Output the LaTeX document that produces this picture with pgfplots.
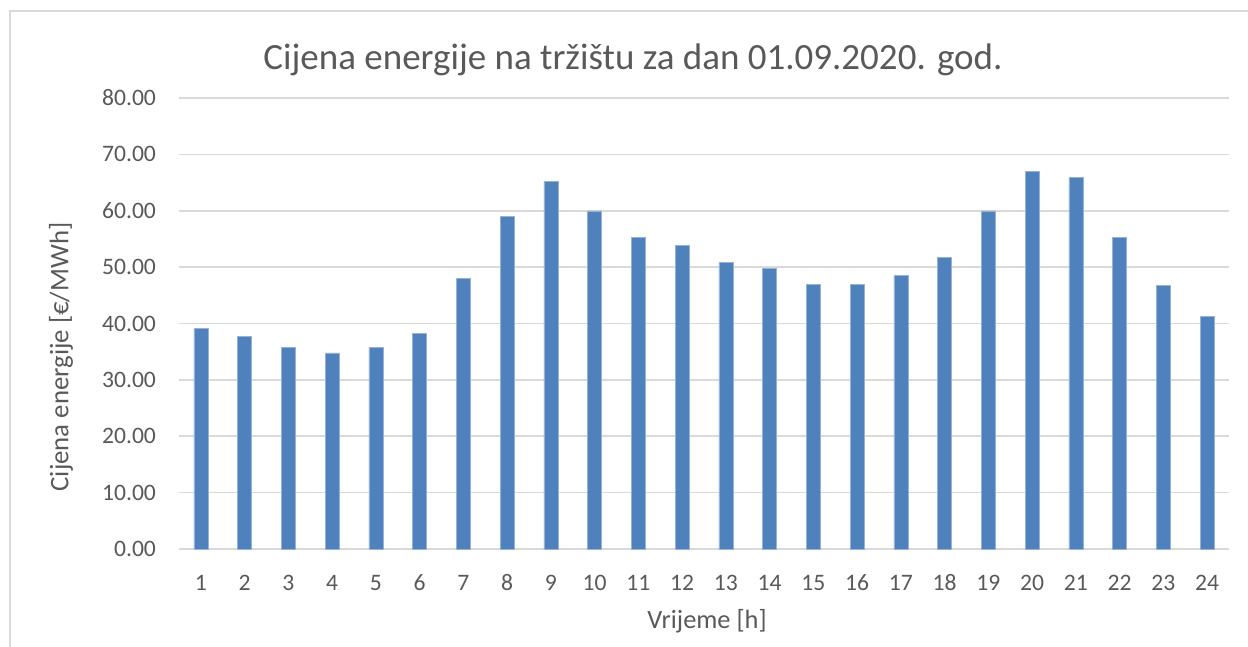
\documentclass[border=0pt]{standalone}
\usepackage{pgfplots}
\pgfplotsset{compat=1.18}
\usepackage{fontspec}
\setmainfont{Carlito}
\definecolor{barblue}{HTML}{4F81BD}
\definecolor{txtgray}{HTML}{595959}
\definecolor{gridgray}{HTML}{D9D9D9}
\begin{document}
\begin{tikzpicture}[x=1pt,y=1pt]
\useasboundingbox (-89.5,-49) rectangle (534.5,274.5);
\draw[gridgray,line width=0.8pt] (-84.5,-49) -- (-84.5,269) -- (534.5,269);
\begin{axis}[
  at={(0,0)}, anchor=origin,
  scale only axis,
  width=525pt, height=225.5pt,
  xmin=0.5, xmax=24.5,
  ymin=0, ymax=80,
  ytick={0,10,...,80},
  xtick={1,...,24},
  axis x line*=bottom,
  x axis line style={draw=gridgray, line width=0.8pt, -},
  axis y line*=left,
  y axis line style={draw=none},
  tick style={draw=none},
  major tick length=0pt,
  ymajorgrids,
  grid style={gridgray, line width=0.8pt},
  tick label style={font=\fontsize{11.8}{13}\selectfont, text=txtgray},
  /pgf/number format/assume math mode=true,
  yticklabel={\pgfmathprintnumber[fixed,fixed zerofill,precision=2]{\tick}},
  xticklabel={\pgfmathprintnumber[int detect]{\tick}},
  xticklabel style={anchor=base, yshift=-21pt},
  yticklabel style={xshift=-8pt},
  clip=false,
]
\addplot[ybar, bar width=7pt, fill=barblue, draw=barblue!60!white, line width=0.3pt] coordinates {
(1,39.08) (2,37.78) (3,35.77) (4,34.77) (5,35.77) (6,38.26) (7,48.01) (8,58.95)
(9,65.22) (10,59.96) (11,55.34) (12,53.87) (13,50.79) (14,49.73) (15,47.00) (16,46.95)
(17,48.54) (18,51.74) (19,59.96) (20,66.99) (21,65.93) (22,55.28) (23,46.83) (24,41.21)
};
\end{axis}
\node[text=txtgray, font=\fontsize{18.5}{21}\selectfont] at (227,244.5) {Cijena energije na tržištu za dan 01.09.2020. god.};
\node[text=txtgray, font=\fontsize{13.4}{15}\selectfont, rotate=90] at (-59,96) {Cijena energije [€/MWh]};
\node[text=txtgray, font=\fontsize{13.2}{15}\selectfont] at (264,-36) {Vrijeme [h]};
\end{tikzpicture}
\end{document}
